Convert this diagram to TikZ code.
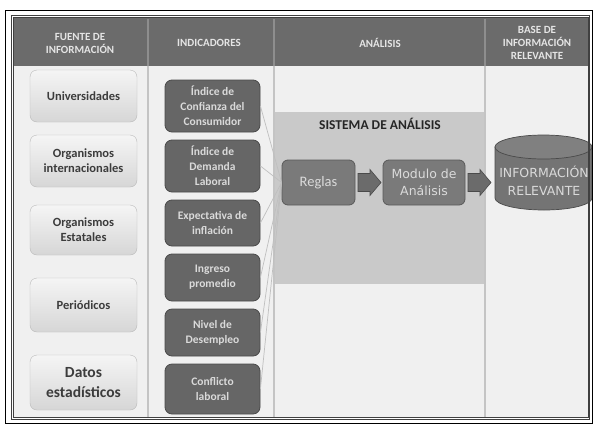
\documentclass[tikz,border=0pt]{standalone}
\usepackage{fontspec}
\setmainfont{Carlito}
\newfontfamily\widesans{DejaVu Sans}
\definecolor{hdr}{HTML}{6B6B6B}
\definecolor{hdrsep}{HTML}{8E8E8E}
\definecolor{bodybg}{HTML}{F0F0F0}
\definecolor{sepc}{HTML}{C4C4C4}
\definecolor{sis}{HTML}{C9C9C9}
\definecolor{indf}{HTML}{666666}
\definecolor{indd}{HTML}{4A4A4A}
\definecolor{indt}{HTML}{DADADA}
\definecolor{srct}{HTML}{3C3C3C}
\definecolor{modf}{HTML}{7A7A7A}
\definecolor{modd}{HTML}{5A5A5A}
\definecolor{cylf}{HTML}{747474}
\definecolor{cylt}{HTML}{808080}
\tikzset{
  srcbox/.style={draw=gray!55, rounded corners=7pt, top color=gray!8, bottom color=gray!32,
    minimum width=107pt, align=center, text=srct, font=\fontsize{12.5}{15}\selectfont\bfseries},
  indbox/.style={draw=indd, fill=indf, rounded corners=7pt, minimum width=95pt, align=center,
    text=indt, font=\fontsize{11.5}{15}\selectfont\bfseries, line width=0.8pt},
  modbox/.style={draw=modd, fill=modf, rounded corners=6pt, align=center, minimum height=45pt,
    text=indt, line width=0.8pt},
  hdrtext/.style={text=white!90!black, align=center, font=\fontsize{11}{13}\selectfont\bfseries},
  conn/.style={draw=gray!50, line width=0.7pt},
  blockarrow/.style={fill=hdr, draw=indd, line width=0.6pt}
}
\begin{document}
\begin{tikzpicture}[x=1pt,y=-1pt]
\useasboundingbox (0,0) rectangle (594,426);
\fill[white] (0,0) rectangle (594,426);
% body and header
\fill[bodybg] (13,18) rectangle (589,418);
\fill[hdr] (13,18) rectangle (589,66);
\fill[sis] (274,112) rectangle (485,284);
% column separators
\foreach \x in {148,274,485} {
  \draw[sepc, line width=1.6pt] (\x,66) -- (\x,417);
  \draw[hdrsep, line width=1.2pt] (\x,19) -- (\x,66);
}
% header texts
\node[hdrtext] (h1) at (80,43) {FUENTE DE\\INFORMACIÓN};
\node[hdrtext] (h2) at (209,43) {INDICADORES};
\node[hdrtext] (h3) at (380,43) {ANÁLISIS};
\node[hdrtext] (h4) at (537,43) {BASE DE\\INFORMACIÓN\\RELEVANTE};
% sources
\node[srcbox, minimum height=52pt] (s1) at (83.5,96) {Universidades};
\node[srcbox, minimum height=52pt] (s2) at (83.5,161) {Organismos\\internacionales};
\node[srcbox, minimum height=50pt] (s3) at (83.5,230) {Organismos\\Estatales};
\node[srcbox, minimum height=54pt] (s4) at (83.5,305) {Periódicos};
\node[srcbox, minimum height=55pt, font=\fontsize{15.5}{20}\selectfont\bfseries] (s5) at (83.5,382.5) {Datos\\estadísticos};
% system
\node[font=\fontsize{13.5}{15}\selectfont\bfseries, text=black!85] (st) at (380,123.5) {SISTEMA DE ANÁLISIS};
\node[modbox, minimum width=73pt, font=\fontsize{14.5}{17}\selectfont] (r) at (318.5,182.5) {Reglas};
\node[modbox, minimum width=82pt, font=\widesans\fontsize{12.5}{17}\selectfont] (m) at (424,182.5) {Modulo de\\Análisis};
% indicators
\node[indbox, minimum height=52pt] (i1) at (212.5,106) {Índice de\\Confianza del\\Consumidor};
\node[indbox, minimum height=52pt] (i2) at (212.5,166) {Índice de\\Demanda\\Laboral};
\node[indbox, minimum height=46pt] (i3) at (212.5,223) {Expectativa de\\inflación};
\node[indbox, minimum height=47pt] (i4) at (212.5,277.5) {Ingreso\\promedio};
\node[indbox, minimum height=47pt] (i5) at (212.5,332.5) {Nivel de\\Desempleo};
\node[indbox, minimum height=50pt] (i6) at (212.5,389) {Conflicto\\laboral};
% connectors
\foreach \i in {1,...,6} { \draw[conn] (i\i.east) -- (r.west); }
% block arrows
\draw[blockarrow] (358,173.5) -- (370,173.5) -- (370,169.5) -- (381,182.5) -- (370,195.5) -- (370,191.5) -- (358,191.5) -- cycle;
\draw[blockarrow] (468,173.5) -- (480,173.5) -- (480,169.5) -- (491,182.5) -- (480,195.5) -- (480,191.5) -- (468,191.5) -- cycle;
% cylinder
\fill[cylf, draw=indd, line width=0.7pt] (495,147) -- (495,198)
  .. controls (495,204.6) and (516.9,210) .. (544,210)
  .. controls (571.1,210) and (592,204.6) .. (592,198) -- (592,147) -- cycle;
\draw[fill=cylt, draw=indd, line width=0.7pt] (543.5,147) ellipse [x radius=48.5, y radius=12];
\node[text=indt, align=center, font=\widesans\fontsize{12.5}{18}\selectfont] (cyl) at (544,181) {INFORMACIÓN\\RELEVANTE};
% frames
\draw[black, line width=0.9pt] (5,10) rectangle (592,423);
\draw[black!75, line width=0.6pt] (11,15) rectangle (589.5,419);
\draw[black!75, line width=0.6pt] (13,17.5) rectangle (588,417.5);
\end{tikzpicture}
\end{document}
